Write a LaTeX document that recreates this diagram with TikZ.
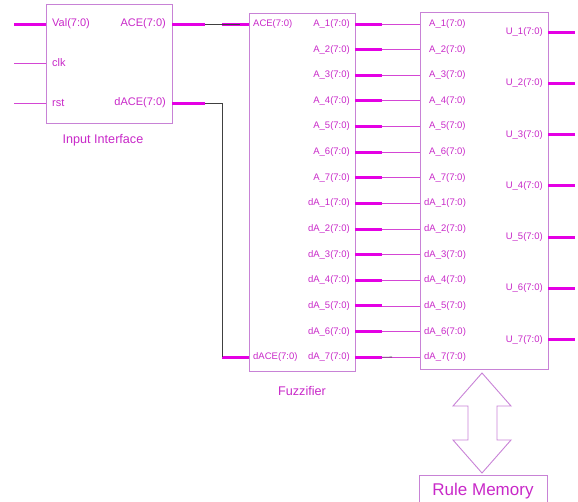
\documentclass[tikz,border=0pt]{standalone}
\usepackage{fontspec}
\setmainfont{Liberation Sans}

\definecolor{wire}{RGB}{228,0,228}
\definecolor{thinwire}{RGB}{212,70,212}
\definecolor{boxline}{RGB}{200,130,214}
\definecolor{pintext}{RGB}{200,40,200}

\tikzset{
  blockbox/.style={draw=boxline, line width=0.9pt, inner sep=0pt},
  busstub/.style={draw=wire, line width=3pt},
  sigwire/.style={draw=thinwire, line width=0.8pt},
  netwire/.style={draw=black!75, line width=0.9pt},
  pinlabel/.style={text=pintext, inner sep=0pt, font=\fontsize{9.5}{11}\selectfont},
  iolabel/.style={text=pintext, inner sep=0pt, font=\fontsize{11}{13}\selectfont},
  captionlabel/.style={text=pintext, inner sep=0pt, font=\fontsize{12.6}{14}\selectfont},
}

\begin{document}
\begin{tikzpicture}[x=1pt, y=-1pt]

    % Frame of the sheet
    \clip (0,0) rectangle (578,501);

    % Blocks
    \node[blockbox, minimum width=126pt, minimum height=119pt] (inif) at (109,63.5) {};
    \node[blockbox, minimum width=106pt, minimum height=358pt] (fuzz) at (302,192) {};
    \node[blockbox, minimum width=128pt, minimum height=357pt] (rules) at (484,190.5) {};
    \node[blockbox, minimum width=128pt, minimum height=36pt] (rmem) at (483,493) {};

    % Captions
    \node[captionlabel] (inifcap) at (103,140) {Input Interface};
    \node[captionlabel] (fuzzcap) at (302,391) {Fuzzifier};
    \node[text=pintext, inner sep=0pt, font=\fontsize{17}{20}\selectfont] (rmemcap) at (483,491) {Rule Memory};

    % Input Interface pins
    \node[iolabel, anchor=west] (ii-val) at (52,24) {Val(7:0)};
    \node[iolabel, anchor=west] (ii-clk) at (52,63) {clk};
    \node[iolabel, anchor=west] (ii-rst) at (52,103) {rst};
    \node[iolabel, anchor=east] (ii-ace) at (166,24) {ACE(7:0)};
    \node[iolabel, anchor=east] (ii-dace) at (166,103) {dACE(7:0)};

    \coordinate (in-val) at (14,24);
    \coordinate (in-clk) at (14,63);
    \coordinate (in-rst) at (14,103);
    \coordinate (pin-val) at (46,24);
    \coordinate (pin-clk) at (46,63);
    \coordinate (pin-rst) at (46,103);
    \draw[busstub] (in-val) -- (pin-val);
    \draw[sigwire] (in-clk) -- (pin-clk);
    \draw[sigwire] (in-rst) -- (pin-rst);

    \coordinate (pin-ace) at (172,24);
    \coordinate (out-ace) at (205,24);
    \coordinate (pin-dace) at (172,103);
    \coordinate (out-dace) at (205,103);
    \draw[busstub] (pin-ace) -- (out-ace);
    \draw[busstub] (pin-dace) -- (out-dace);

    % Fuzzifier inputs
    \node[pinlabel, anchor=west] (fz-acel) at (253,24) {ACE(7:0)};
    \node[pinlabel, anchor=west] (fz-dacel) at (253,357) {dACE(7:0)};
    \coordinate (fz-ace) at (249,24);
    \coordinate (fzi-ace) at (222,24);
    \coordinate (fz-dace) at (249,357);
    \coordinate (fzi-dace) at (222,357);
    \draw[busstub] (fzi-ace) -- (fz-ace);
    \draw[busstub] (fzi-dace) -- (fz-dace);

    % Nets between Input Interface and Fuzzifier
    \draw[netwire] (out-ace) -- (240,24);
    \draw[netwire] (out-dace) -| (fzi-dace);

    % Fuzzifier outputs to the rule block
    \foreach \i in {1,...,7} {
        \pgfmathsetmacro\ya{24+(\i-1)*25.63}
        \pgfmathsetmacro\yd{24+(\i+6)*25.63}
        \node[pinlabel, anchor=east] (fz-Al\i) at (350,\ya) {A\_\i(7:0)};
        \node[pinlabel, anchor=east] (fz-dAl\i) at (350,\yd) {dA\_\i(7:0)};
        \node[pinlabel, anchor=west] (rb-Al\i) at (429,\ya) {A\_\i(7:0)};
        \node[pinlabel, anchor=west] (rb-dAl\i) at (424,\yd) {dA\_\i(7:0)};
        \coordinate (fz-A\i) at (355,\ya);
        \coordinate (fzo-A\i) at (382,\ya);
        \coordinate (rb-A\i) at (420,\ya);
        \coordinate (fz-dA\i) at (355,\yd);
        \coordinate (fzo-dA\i) at (382,\yd);
        \coordinate (rb-dA\i) at (420,\yd);
        \draw[busstub] (fz-A\i) -- (fzo-A\i);
        \draw[busstub] (fz-dA\i) -- (fzo-dA\i);
        \draw[sigwire] (fzo-A\i) -- (rb-A\i);
        \draw[sigwire] (fzo-dA\i) -- (rb-dA\i);
    }
    % short routed piece on the last net
    \draw[netwire, line width=0.6pt] (fzo-dA7) -- (392,357);

    % Rule block outputs
    \foreach \i in {1,...,7} {
        \pgfmathsetmacro\yu{32+(\i-1)*51.3}
        \node[pinlabel, anchor=east] (rb-Ul\i) at (543,\yu) {U\_\i(7:0)};
        \coordinate (rb-U\i) at (548,\yu);
        \coordinate (out-U\i) at (575,\yu);
        \draw[busstub] (rb-U\i) -- (out-U\i);
    }

    % Rule memory access
    \draw[draw=boxline, line width=0.9pt]
        (482,373) -- (511,406) -- (497,406) -- (497,440) -- (511,440)
        -- (482,473) -- (453,440) -- (468,440) -- (468,406) -- (453,406) -- cycle;

\end{tikzpicture}
\end{document}
